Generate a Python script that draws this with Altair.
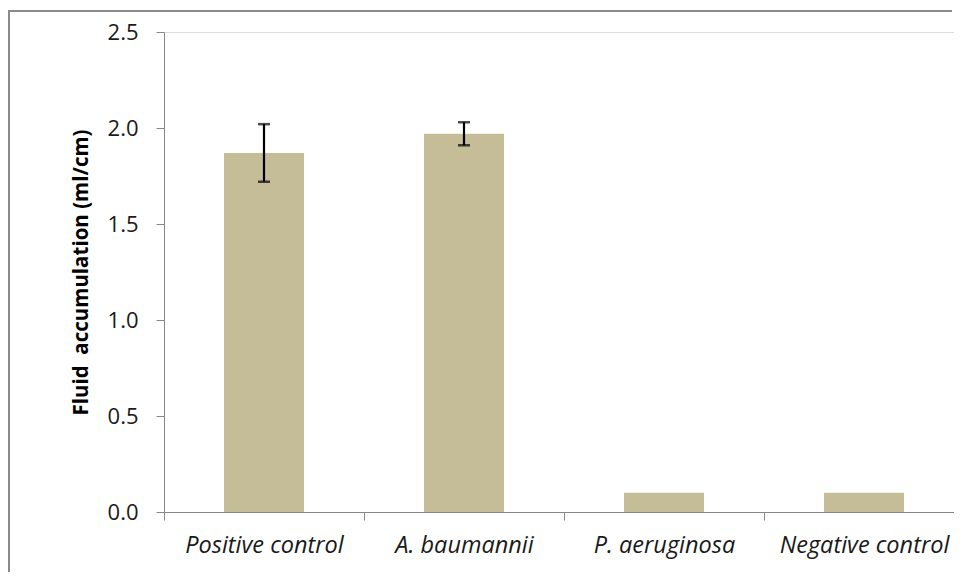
import altair as alt
import pandas as pd

categories = ["Positive control", "A. baumannii", "P. aeruginosa", "Negative control"]
values = [1.87, 1.97, 0.10, 0.10]
errors = [0.15, 0.06, 0.0, 0.0]

df = pd.DataFrame({"cat": categories, "val": values, "err": errors})
df["lo"] = df["val"] - df["err"]
df["hi"] = df["val"] + df["err"]
err_df = df[df["err"] > 0]

FONT = "Open Sans"
AXIS_GRAY = "#868686"
BORDER_GRAY = "#8a8a8a"

x_enc = alt.X(
    "cat:N",
    sort=categories,
    scale=alt.Scale(paddingInner=0, paddingOuter=0),
    axis=alt.Axis(
        title=None,
        labelAngle=0,
        labelFont=FONT,
        labelFontStyle="italic",
        labelFontSize=23.5,
        labelColor="#1a1a1a",
        labelPadding=13,
        tickBand="extent",
        tickSize=8,
        tickColor=AXIS_GRAY,
        domainColor=AXIS_GRAY,
        labelLimit=300,
    ),
)

y_enc = alt.Y(
    "val:Q",
    scale=alt.Scale(domain=[0, 2.5], nice=False),
    axis=alt.Axis(
        title="Fluid\u00a0 accumulation (ml/cm)",
        titleFont=FONT,
        titleFontSize=20.5,
        titleFontWeight="bold",
        titleColor="#000000",
        titlePadding=16,
        values=[0, 0.5, 1.0, 1.5, 2.0, 2.5],
        format=".1f",
        labelFont=FONT,
        labelFontSize=22,
        labelColor="#1a1a1a",
        labelPadding=18,
        tickSize=8,
        tickColor=AXIS_GRAY,
        domainColor=AXIS_GRAY,
        grid=False,
    ),
)

one = df.head(1)
border_top = alt.Chart(one).mark_rule(
    color=BORDER_GRAY, strokeWidth=2, clip=False
).encode(x=alt.value(-156), x2=alt.value(788), y=alt.value(-21))
border_left = alt.Chart(one).mark_rule(
    color=BORDER_GRAY, strokeWidth=2, clip=False
).encode(x=alt.value(-155), y=alt.value(-22), y2=alt.value(540))

bars = alt.Chart(df).mark_bar(
    color="#C4BD97", width=alt.RelativeBandSize(0.4)
).encode(x=x_enc, y=y_enc)

rules = alt.Chart(err_df).mark_rule(color="black", strokeWidth=2.2).encode(
    x=alt.X("cat:N", sort=categories),
    y=alt.Y("lo:Q"),
    y2="hi:Q",
)
cap_lo = alt.Chart(err_df).mark_tick(
    color="black", thickness=2.5, size=12, orient="horizontal"
).encode(x=alt.X("cat:N", sort=categories), y=alt.Y("lo:Q"))
cap_hi = alt.Chart(err_df).mark_tick(
    color="black", thickness=2.5, size=12, orient="horizontal"
).encode(x=alt.X("cat:N", sort=categories), y=alt.Y("hi:Q"))

chart = alt.layer(bars, border_top, border_left, rules, cap_lo, cap_hi).properties(
    width=800,
    height=480,
    autosize=alt.AutoSizeParams(type="none"),
    padding={"left": 156, "top": 24, "right": -10, "bottom": 60},
).configure_view(stroke=None).configure(background="white")

chart.save("out.html", embed_options={"renderer": "svg", "actions": False})
